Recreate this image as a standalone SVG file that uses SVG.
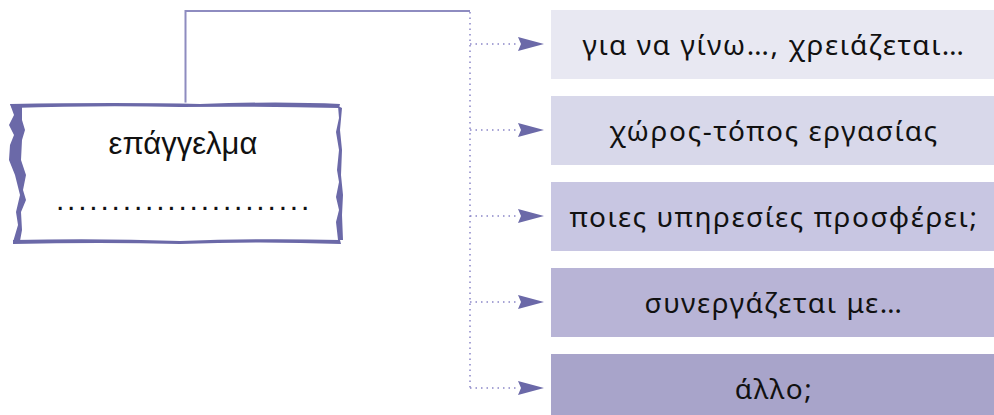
<svg xmlns="http://www.w3.org/2000/svg" width="994" height="415" viewBox="0 0 994 415">
<defs>
<style>
.lbl{font-family:"Noto Sans","Open Sans",sans-serif;font-size:28px;fill:#111;text-anchor:middle;letter-spacing:1.6px}
.dot{stroke:#8a86c8;stroke-width:1.5;stroke-dasharray:1.5 4;fill:none}
.solid{stroke:#8e8cc0;stroke-width:2;fill:none}
.edge{fill:#6b69a8}
</style>
<marker id="ah" viewBox="0 0 26 14" refX="0" refY="7" markerWidth="26" markerHeight="14" markerUnits="userSpaceOnUse" orient="auto">
<path d="M0,0 L26,7 L0,14 L3,7 Z" fill="#6b69a8"/>
</marker>
</defs>
<rect width="994" height="415" fill="#fff"/>
<g id="connectors">
<path class="solid" d="M185.5,105 V11 H470"/>
<path class="dot" d="M470,12 V388"/>
<path class="dot" d="M470,44 H518" marker-end="url(#ah)"/>
<path class="dot" d="M470,130 H518" marker-end="url(#ah)"/>
<path class="dot" d="M470,216 H518" marker-end="url(#ah)"/>
<path class="dot" d="M470,302 H518" marker-end="url(#ah)"/>
<path class="dot" d="M470,388 H518" marker-end="url(#ah)"/>
</g>
<g id="profession">
<path d="M10,105 Q170,100 338,105 L342,120 Q338,175 340,240 Q180,246 12,243 Z" fill="#fff"/>
<path class="edge" d="M10,104 Q120,102 200,104 Q280,101 340,104 L339,108 Q260,106 180,107 Q100,105 12,108 Z"/>
<path class="edge" d="M10,104 L22,106 L22,120 L25,130 L22,140 L21,160 L26,175 L23,190 L26,200 L21,212 L22,230 L20,241 L13,242 L18,225 L16,212 L20,195 L15,175 L9,160 L10,145 L14,135 L9,125 L14,115 Z"/>
<path class="edge" d="M13,240 Q100,238 180,241 Q260,238 340,240 L341,244 Q260,241 180,244 Q100,242 13,244 Z"/>
<path class="edge" d="M338,106 L342,108 L340,130 L342,150 L341,175 L343,195 L342,215 L343,240 L338,240 L336,222 L339,210 L336,197 L339,182 L337,170 L339,150 L336,132 L339,118 Z"/>
<text x="183" y="154" style="font-family:'Liberation Sans',Arial,sans-serif;font-size:31px;fill:#111;text-anchor:middle">επάγγελμα</text>
<text x="184" y="210" style="font-family:'Liberation Sans',Arial,sans-serif;font-size:30px;fill:#111;text-anchor:middle;letter-spacing:2.8px">.......................</text>
</g>
<g id="item1"><rect x="551" y="10" width="443" height="69" fill="#e8e8f2"/><text class="lbl" x="774" y="55">για να γίνω…, χρειάζεται…</text></g>
<g id="item2"><rect x="551" y="96" width="443" height="69" fill="#d8d8ea"/><text class="lbl" x="774" y="141">χώρος-τόπος εργασίας</text></g>
<g id="item3"><rect x="551" y="182" width="443" height="69" fill="#c8c6e2"/><text class="lbl" x="774" y="227">ποιες υπηρεσίες προσφέρει;</text></g>
<g id="item4"><rect x="551" y="268" width="443" height="69" fill="#b8b4d6"/><text class="lbl" x="774" y="313">συνεργάζεται με…</text></g>
<g id="item5"><rect x="551" y="354" width="443" height="61" fill="#a8a4ca"/><text class="lbl" x="774" y="399">άλλο;</text></g>
</svg>
